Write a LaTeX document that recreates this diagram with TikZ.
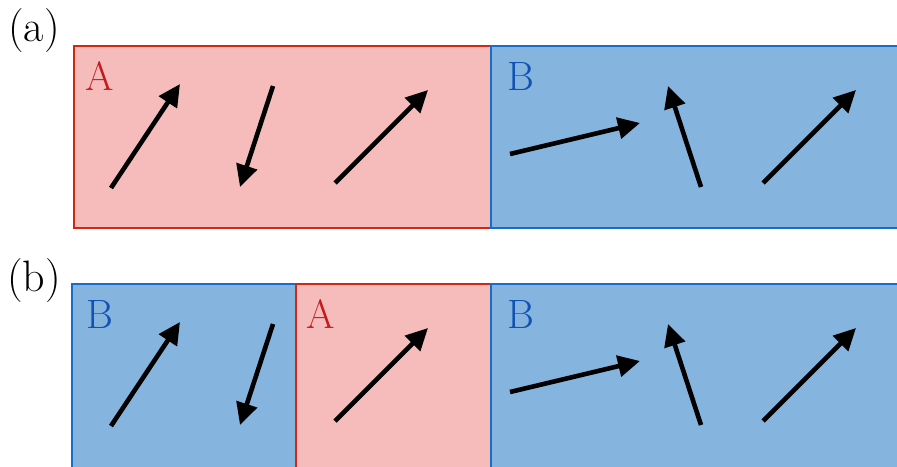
\documentclass[tikz,border=0pt]{standalone}
\usepackage{xcolor}
\usepackage{tikz}
\usetikzlibrary{
	arrows.meta
}
\definecolor{PinkFill}{RGB}{246,188,188}
\definecolor{RedEdge}{RGB}{208,40,22}
\definecolor{BlueFill}{RGB}{133,180,222}
\definecolor{BlueEdge}{RGB}{22,110,200}
\definecolor{RedText}{RGB}{196,28,28}
\definecolor{BlueText}{RGB}{18,82,178}

\tikzset{
	regionA/.style={fill=PinkFill, draw=RedEdge, line width=1.6pt},
	regionB/.style={fill=BlueFill, draw=BlueEdge, line width=1.6pt},
	spin/.style={-{Triangle[length=22pt, width=21pt]}, line width=4.6pt},
	bigtext/.style={font=\fontsize{41}{48}\selectfont, inner sep=0pt},
	tagtext/.style={font=\fontsize{44}{52}\selectfont, inner sep=0pt}
}

\begin{document}
\begin{tikzpicture}[x=1pt, y=-1pt]
			\useasboundingbox (0,0) rectangle (897,466);
			% panel (a): A | B
			\draw[regionA] (74,46) rectangle (491,228);
			\draw[regionB] (491,46) rectangle (905,228);
			% panel (b): B | A | B
			\draw[regionB] (72,284) rectangle (296,470);
			\draw[regionA] (296,284) rectangle (491,470);
			\draw[regionB] (491,284) rectangle (905,470);
			% labels
			\node[tagtext] (tagA) at (34,31) {(a)};
			\node[tagtext] (tagB) at (34,281) {(b)};
			\node[bigtext, RedText] (aA) at (100,76) {A};
			\node[bigtext, BlueText] (aB) at (521,76) {B};
			\node[bigtext, BlueText] (bB1) at (100,314) {B};
			\node[bigtext, RedText] (bA) at (321,314) {A};
			\node[bigtext, BlueText] (bB2) at (521,314) {B};
			% spins, same in both panels
			\foreach \dy in {0,238} {
				\begin{scope}[yshift=-\dy pt]
					\draw[spin] (111,188) -- (180,84);
					\draw[spin] (273,86) -- (240,187);
					\draw[spin] (335,183) -- (428,90);
					\draw[spin] (510,154) -- (640,123);
					\draw[spin] (701,187) -- (668,86);
					\draw[spin] (763,183) -- (856,90);
				\end{scope}
			}
		\end{tikzpicture}
\end{document}
